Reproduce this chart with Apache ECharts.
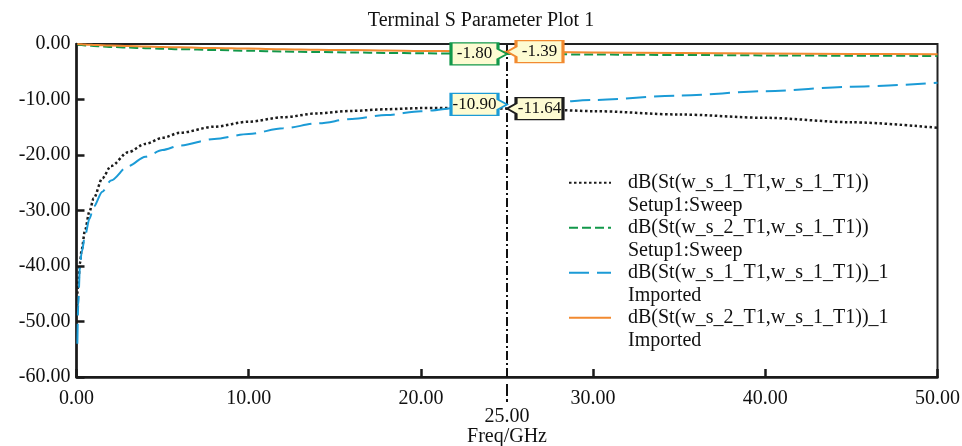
<!DOCTYPE html>
<html>
<head>
<meta charset="utf-8">
<script src="https://cdn.jsdelivr.net/npm/echarts@6/dist/echarts.min.js"></script>
<style>
  html, body { margin: 0; padding: 0; background: #fff; }
  #chart { width: 962px; height: 446px; }
</style>
</head>
<body>
<div id="chart"></div>
<script>
// 频率点 (GHz)
var freqs = [0.05, 0.1, 0.2, 0.3, 0.5, 0.75, 1, 1.5, 2, 3, 4, 5, 6, 8, 10, 12, 14, 16, 18, 20, 22.5, 25, 27.5, 30, 35, 40, 45, 50];
// dB(St(w_s_1_T1,w_s_1_T1)) Setup1:Sweep
var s11Sim = [-45, -43, -39.5, -37, -33.5, -30.2, -27.8, -24.2, -22.0, -19.5, -18.0, -16.9, -16.0, -14.9, -14.0, -13.2, -12.5, -12.05, -11.75, -11.55, -11.5, -11.64, -11.85, -12.1, -12.7, -13.3, -14.1, -15.1];
// dB(St(w_s_2_T1,w_s_1_T1)) Setup1:Sweep
var s21Sim = [-0.05, -0.1, -0.15, -0.2, -0.25, -0.3, -0.35, -0.45, -0.52, -0.65, -0.75, -0.85, -0.93, -1.08, -1.22, -1.35, -1.45, -1.53, -1.6, -1.67, -1.74, -1.80, -1.85, -1.9, -1.98, -2.05, -2.11, -2.16];
// dB(St(w_s_1_T1,w_s_1_T1))_1 Imported
var s11Imp = [-54, -47, -40, -37.5, -34.5, -31.5, -29.3, -26.6, -24.6, -22.0, -20.3, -19.1, -18.3, -17.1, -16.2, -15.2, -14.3, -13.5, -12.8, -12.1, -11.4, -10.90, -10.5, -10.1, -9.3, -8.5, -7.7, -7.0];
// dB(St(w_s_2_T1,w_s_1_T1))_1 Imported
var s21Imp = [0, -0.02, -0.04, -0.06, -0.1, -0.13, -0.16, -0.22, -0.28, -0.38, -0.46, -0.54, -0.6, -0.72, -0.83, -0.93, -1.02, -1.1, -1.17, -1.24, -1.32, -1.39, -1.45, -1.51, -1.61, -1.70, -1.78, -1.86];

var seriesNames = ['dB(St(w_s_1_T1,w_s_1_T1))', 'dB(St(w_s_2_T1,w_s_1_T1))', 'dB(St(w_s_1_T1,w_s_1_T1))_1', 'dB(St(w_s_2_T1,w_s_1_T1))_1'];
var seriesSubs = ['Setup1:Sweep', 'Setup1:Sweep', 'Imported', 'Imported'];
var markerFreq = 25;

var serif = '"Liberation Serif", "DejaVu Serif", serif';
var colors = ['#1c1c1c', '#12984a', '#1b9bd6', '#f28a30'];

// 标注框：尖角朝右 / 朝左
var tipRight = 'path://M0,0L47,0L47,6L56,11L47,16L47,22L0,22Z';
var tipLeft = 'path://M9,0L56,0L56,22L9,22L9,16L0,11L9,6Z';

function pairs(vals) {
    return freqs.map(function (f, i) { return [f, vals[i]]; });
}

function callout(vals, color, side) {
    var v = vals[freqs.indexOf(markerFreq)];
    var left = side === 'left';
    return {
        z: 10,
        symbol: left ? tipRight : tipLeft,
        symbolSize: [56, 22],
        symbolOffset: [left ? -28 : 28, 0],
        itemStyle: { color: '#fdfbd2', borderColor: color, borderWidth: 2 },
        label: {
            show: true,
            position: 'inside',
            offset: [left ? -4.5 : 4.5, 0],
            formatter: function (p) { return p.value.toFixed(2); },
            fontFamily: serif,
            fontSize: 17,
            color: '#111'
        },
        data: [{ coord: [markerFreq, v], value: v }]
    };
}

var chart = echarts.init(document.getElementById('chart'));

var option = {
    animation: false,
    backgroundColor: '#fff',
    title: {
        text: 'Terminal S Parameter Plot 1',
        left: 'center',
        top: 6,
        textStyle: { fontFamily: serif, fontSize: 20, fontWeight: 'normal', color: '#111' }
    },
    grid: {
        left: 76.5, right: 24.5, top: 44, bottom: 69,
        outerBoundsMode: 'none',
        containLabel: false,
        show: true, borderColor: '#222', borderWidth: 2
    },
    legend: {
        orient: 'vertical',
        left: 568,
        top: 149,
        padding: 0,
        itemWidth: 42,
        itemHeight: 14,
        itemGap: -22.5,
        itemStyle: { opacity: 0 },
        data: seriesNames,
        formatter: function (name) {
            return '\n' + name + '\n' + seriesSubs[seriesNames.indexOf(name)];
        },
        textStyle: {
            fontFamily: serif, fontSize: 20, lineHeight: 22.5, color: '#111',
            padding: [0, 0, 0, 12]
        }
    },
    xAxis: {
        type: 'value',
        min: 0, max: 50, interval: 10,
        name: 'Freq/GHz',
        nameLocation: 'middle',
        nameGap: 50,
        nameMoveOverlap: false,
        nameTextStyle: { fontFamily: serif, fontSize: 20, color: '#111' },
        axisLine: { onZero: false, lineStyle: { color: '#1a1a1a', width: 2.5 } },
        axisTick: { inside: true, length: 8, lineStyle: { color: '#1a1a1a', width: 2.5 } },
        axisLabel: {
            margin: 12,
            fontFamily: serif, fontSize: 20, color: '#111',
            formatter: function (v) { return v.toFixed(2); }
        },
        splitLine: { show: false }
    },
    yAxis: {
        type: 'value',
        min: -60, max: 0, interval: 10,
        axisLine: { show: true, onZero: false, lineStyle: { color: '#1a1a1a', width: 2.5 } },
        axisTick: { show: true, inside: true, length: 8, lineStyle: { color: '#1a1a1a', width: 2.5 } },
        axisLabel: {
            margin: 6,
            fontFamily: serif, fontSize: 20, color: '#111',
            formatter: function (v) { return v.toFixed(2); }
        },
        splitLine: { show: false }
    },
    series: [
        {
            name: seriesNames[0],
            type: 'line',
            data: pairs(s11Sim),
            symbol: 'none',
            smooth: 0.3,
            smoothMonotone: 'x',
            color: colors[0],
            lineStyle: { color: colors[0], width: 2.5, type: [2.5, 2.5] },
            markLine: {
                silent: true,
                symbol: 'none',
                lineStyle: { color: '#111', width: 2, type: [9, 3, 2, 3] },
                label: {
                    show: true,
                    position: 'start',
                    distance: 0,
                    offset: [0, 7],
                    formatter: '{d| }\n{g| }\n{p| }\n{g| }\n{t|' + markerFreq.toFixed(2) + '}',
                    rich: {
                        d: { width: 2, height: 12, lineHeight: 12, fontSize: 1, color: 'rgba(0,0,0,0)', backgroundColor: '#111' },
                        g: { width: 2, height: 3, lineHeight: 3, fontSize: 1, color: 'rgba(0,0,0,0)' },
                        p: { width: 2, height: 3, lineHeight: 3, fontSize: 1, color: 'rgba(0,0,0,0)', backgroundColor: '#111' },
                        t: { fontFamily: serif, fontSize: 20, color: '#111', lineHeight: 24 }
                    }
                },
                data: [{ xAxis: markerFreq }]
            },
            markPoint: callout(s11Sim, colors[0], 'right')
        },
        {
            name: seriesNames[1],
            type: 'line',
            data: pairs(s21Sim),
            symbol: 'none',
            smooth: 0.3,
            smoothMonotone: 'x',
            color: colors[1],
            lineStyle: { color: colors[1], width: 2, type: [9, 4] },
            markPoint: callout(s21Sim, colors[1], 'left')
        },
        {
            name: seriesNames[2],
            type: 'line',
            data: pairs(s11Imp),
            symbol: 'none',
            smooth: 0.3,
            smoothMonotone: 'x',
            color: colors[2],
            lineStyle: { color: colors[2], width: 2, type: [20, 8] },
            markPoint: callout(s11Imp, colors[2], 'left')
        },
        {
            name: seriesNames[3],
            type: 'line',
            data: pairs(s21Imp),
            symbol: 'none',
            smooth: 0.3,
            smoothMonotone: 'x',
            color: colors[3],
            lineStyle: { color: colors[3], width: 2 },
            markPoint: callout(s21Imp, colors[3], 'right')
        }
    ]
};

chart.setOption(option);
</script>
</body>
</html>
